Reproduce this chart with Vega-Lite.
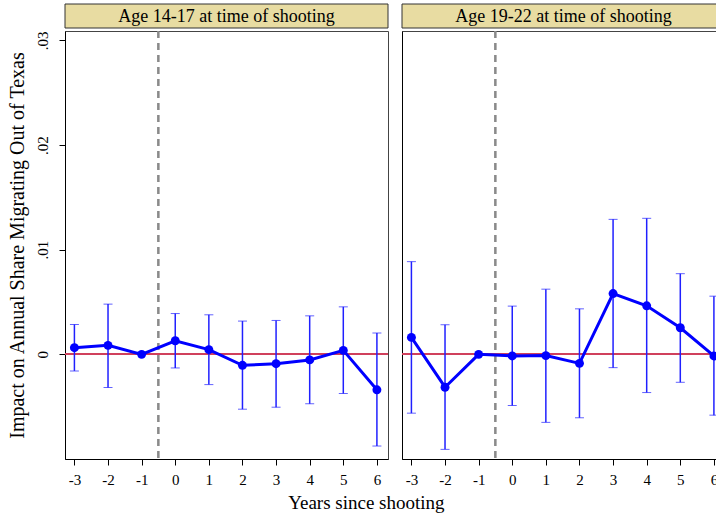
{
  "$schema": "https://vega.github.io/schema/vega-lite/v6.json",
  "background": "white",
  "padding": {"left": 6, "top": 3, "right": 5, "bottom": 5},
  "config": {
    "font": "Liberation Serif",
    "view": {"stroke": "#444", "strokeWidth": 1},
    "axis": {"grid": false, "domainColor": "#000", "tickColor": "#000", "labelColor": "#000", "titleColor": "#000", "labelFont": "Liberation Serif", "titleFont": "Liberation Serif", "titleFontWeight": "normal", "labelFontSize": 15, "titleFontSize": 20, "tickSize": 6, "minExtent": 0}
  },
  "datasets": {
    "est": [
      {"panel": "Age 14-17 at time of shooting", "t": -3, "b": 0.00064, "lo": -0.00158, "hi": 0.00286},
      {"panel": "Age 14-17 at time of shooting", "t": -2, "b": 0.00086, "lo": -0.00317, "hi": 0.0048},
      {"panel": "Age 14-17 at time of shooting", "t": -1, "b": 0, "lo": null, "hi": null},
      {"panel": "Age 14-17 at time of shooting", "t": 0, "b": 0.0013, "lo": -0.0013, "hi": 0.0039},
      {"panel": "Age 14-17 at time of shooting", "t": 1, "b": 0.00045, "lo": -0.00289, "hi": 0.00378},
      {"panel": "Age 14-17 at time of shooting", "t": 2, "b": -0.00105, "lo": -0.00524, "hi": 0.00318},
      {"panel": "Age 14-17 at time of shooting", "t": 3, "b": -0.00089, "lo": -0.00505, "hi": 0.00324},
      {"panel": "Age 14-17 at time of shooting", "t": 4, "b": -0.00053, "lo": -0.00472, "hi": 0.00368},
      {"panel": "Age 14-17 at time of shooting", "t": 5, "b": 0.00038, "lo": -0.00374, "hi": 0.00454},
      {"panel": "Age 14-17 at time of shooting", "t": 6, "b": -0.00339, "lo": -0.00876, "hi": 0.00204},
      {"panel": "Age 19-22 at time of shooting", "t": -3, "b": 0.00162, "lo": -0.00562, "hi": 0.00886},
      {"panel": "Age 19-22 at time of shooting", "t": -2, "b": -0.00314, "lo": -0.00908, "hi": 0.00283},
      {"panel": "Age 19-22 at time of shooting", "t": -1, "b": 0, "lo": null, "hi": null},
      {"panel": "Age 19-22 at time of shooting", "t": 0, "b": -0.00015, "lo": -0.00489, "hi": 0.00461},
      {"panel": "Age 19-22 at time of shooting", "t": 1, "b": -0.00012, "lo": -0.0065, "hi": 0.00623},
      {"panel": "Age 19-22 at time of shooting", "t": 2, "b": -0.00086, "lo": -0.00606, "hi": 0.00435},
      {"panel": "Age 19-22 at time of shooting", "t": 3, "b": 0.00581, "lo": -0.00127, "hi": 0.0129},
      {"panel": "Age 19-22 at time of shooting", "t": 4, "b": 0.00464, "lo": -0.00365, "hi": 0.013},
      {"panel": "Age 19-22 at time of shooting", "t": 5, "b": 0.00254, "lo": -0.00267, "hi": 0.00771},
      {"panel": "Age 19-22 at time of shooting", "t": 6, "b": -0.00015, "lo": -0.00581, "hi": 0.00556}
    ]
  },
  "title": {"text": "Years since shooting", "orient": "bottom", "anchor": "middle", "font": "Liberation Serif", "fontSize": 19, "fontWeight": "normal", "color": "#000", "offset": 6},
  "spacing": 10,
  "hconcat": [
    {
      "spacing": 0,
      "vconcat": [
        {
          "width": 323, "height": 24,
          "data": {"name": "est"},
          "transform": [{"filter": "datum.t == -1 && datum.panel == 'Age 14-17 at time of shooting'"}],
          "layer": [
            {"mark": {"type": "rect", "fill": "#E8DCA2", "stroke": "#333", "strokeWidth": 1}, "encoding": {}},
            {"mark": {"type": "text", "font": "Liberation Serif", "fontSize": 18, "color": "#000", "baseline": "middle", "align": "center", "dy": 1}, "encoding": {"text": {"field": "panel"}}}
          ]
        },
        {
          "width": 323, "height": 428,
          "data": {"name": "est"},
          "transform": [{"filter": "datum.panel == 'Age 14-17 at time of shooting'"}],
          "encoding": {
            "x": {"field": "t", "type": "quantitative", "scale": {"domain": [-3.28, 6.33], "nice": false, "zero": false},
                  "axis": {"values": [-3, -2, -1, 0, 1, 2, 3, 4, 5, 6], "labelExpr": "'' + datum.value", "title": null, "labelPadding": 7}}
          },
          "layer": [
            {"mark": {"type": "rule", "color": "#D0405C", "strokeWidth": 1.5}, "encoding": {"y": {"datum": 0, "type": "quantitative", "scale": {"domain": [-0.01, 0.0309], "nice": false}}, "x": null}},
            {"mark": {"type": "rule", "color": "#8a8a8a", "strokeWidth": 1.3, "strokeDash": [7, 5]}, "encoding": {"x": {"datum": -0.5, "type": "quantitative"}}},
            {"transform": [{"filter": "isValid(datum.lo)"}], "mark": {"type": "errorbar", "ticks": {"size": 9, "color": "#2020ff", "strokeWidth": 1.5}, "rule": {"color": "#2020ff", "strokeWidth": 1.5}},
             "encoding": {"y": {"field": "lo", "type": "quantitative", "title": "Impact on Annual Share Migrating Out of Texas"}, "y2": {"field": "hi"}}},
            {"mark": {"type": "line", "color": "#0000ff", "strokeWidth": 3},
             "encoding": {"y": {"field": "b", "type": "quantitative",
               "axis": {"values": [0, 0.01, 0.02, 0.03], "labelExpr": "datum.value == 0 ? '0' : replace(format(datum.value, '.2f'), '0.', '.')", "labelAngle": -90, "labelAlign": "center", "labelBaseline": "bottom", "labelPadding": 9, "title": "Impact on Annual Share Migrating Out of Texas", "titlePadding": 8}}}},
            {"mark": {"type": "point", "filled": true, "color": "#0000ff", "size": 80, "opacity": 1}, "encoding": {"y": {"field": "b", "type": "quantitative", "title": "Impact on Annual Share Migrating Out of Texas"}}}
          ]
        }
      ]
    },
    {
      "spacing": 0,
      "vconcat": [
        {
          "width": 323, "height": 24,
          "data": {"name": "est"},
          "transform": [{"filter": "datum.t == -1 && datum.panel == 'Age 19-22 at time of shooting'"}],
          "layer": [
            {"mark": {"type": "rect", "fill": "#E8DCA2", "stroke": "#333", "strokeWidth": 1}, "encoding": {}},
            {"mark": {"type": "text", "font": "Liberation Serif", "fontSize": 18, "color": "#000", "baseline": "middle", "align": "center", "dy": 1}, "encoding": {"text": {"field": "panel"}}}
          ]
        },
        {
          "width": 323, "height": 428,
          "data": {"name": "est"},
          "transform": [{"filter": "datum.panel == 'Age 19-22 at time of shooting'"}],
          "encoding": {
            "x": {"field": "t", "type": "quantitative", "scale": {"domain": [-3.28, 6.33], "nice": false, "zero": false},
                  "axis": {"values": [-3, -2, -1, 0, 1, 2, 3, 4, 5, 6], "labelExpr": "'' + datum.value", "title": null, "labelPadding": 7}}
          },
          "layer": [
            {"mark": {"type": "rule", "color": "#D0405C", "strokeWidth": 1.5}, "encoding": {"y": {"datum": 0, "type": "quantitative", "scale": {"domain": [-0.01, 0.0309], "nice": false}}, "x": null}},
            {"mark": {"type": "rule", "color": "#8a8a8a", "strokeWidth": 1.3, "strokeDash": [7, 5]}, "encoding": {"x": {"datum": -0.5, "type": "quantitative"}}},
            {"transform": [{"filter": "isValid(datum.lo)"}], "mark": {"type": "errorbar", "ticks": {"size": 9, "color": "#2020ff", "strokeWidth": 1.5}, "rule": {"color": "#2020ff", "strokeWidth": 1.5}},
             "encoding": {"y": {"field": "lo", "type": "quantitative", "title": null}, "y2": {"field": "hi"}}},
            {"mark": {"type": "line", "color": "#0000ff", "strokeWidth": 3},
             "encoding": {"y": {"field": "b", "type": "quantitative",
               "axis": {"values": [0, 0.01, 0.02, 0.03], "labels": false, "ticks": false, "title": null}}}},
            {"mark": {"type": "point", "filled": true, "color": "#0000ff", "size": 80, "opacity": 1}, "encoding": {"y": {"field": "b", "type": "quantitative", "title": null}}}
          ]
        }
      ]
    }
  ]
}
